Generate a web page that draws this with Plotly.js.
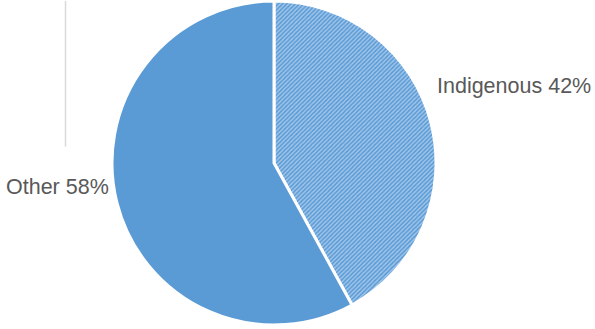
<!DOCTYPE html>
<html>
<head>
<meta charset="utf-8">
<script src="https://cdn.plot.ly/plotly-3.0.1.min.js"></script>
<style>html,body{margin:0;padding:0;background:#fff;}#chart{width:595px;height:329px;}</style>
</head>
<body>
<div id="chart"></div>
<script>
var labels = ["Indigenous", "Other"];
var values = [42, 58];
var colors = ["#5B9BD5", "#5B9BD5"];

var W = 595, H = 329;
function px(x){ return x / W; }
function py(y){ return 1 - y / H; }

var trace = {
  type: "pie",
  labels: labels,
  values: values,
  sort: false,
  direction: "clockwise",
  rotation: 0,
  textinfo: "none",
  textposition: "inside",
  hoverinfo: "label+percent",
  domain: {x: [px(112), px(436)], y: [0, 1]},
  marker: {
    colors: colors,
    line: {color: "#ffffff", width: 3},
    pattern: {
      shape: ["/", ""],
      bgcolor: ["#5B9BD5", "#5B9BD5"],
      fgcolor: ["#a6c9ec", "#5B9BD5"],
      fgopacity: 1,
      size: 3,
      solidity: 0.45,
      fillmode: "replace"
    }
  }
};

var annPos = [
  {x: 435, y: 86, xanchor: "left"},
  {x: 111, y: 189, xanchor: "right"}
];
var annotations = labels.map(function(l, i){
  return {
    text: l + " " + values[i] + "%",
    xref: "paper", yref: "paper",
    x: px(annPos[i].x), y: py(annPos[i].y),
    xanchor: annPos[i].xanchor, yanchor: "middle",
    showarrow: false,
    font: {family: "Liberation Sans, Arial, sans-serif", size: 21.5, color: "#595959"}
  };
});

var layout = {
  width: W, height: H,
  margin: {l: 0, r: 0, t: 1, b: 4},
  paper_bgcolor: "#ffffff",
  showlegend: false,
  annotations: annotations,
  shapes: [{
    type: "line", xref: "paper", yref: "paper",
    x0: px(65.5), x1: px(65.5), y0: py(0), y1: py(148),
    line: {color: "#d9d9d9", width: 1.5}
  }]
};

Plotly.newPlot("chart", [trace], layout, {displayModeBar: false, staticPlot: true});
</script>
</body>
</html>
